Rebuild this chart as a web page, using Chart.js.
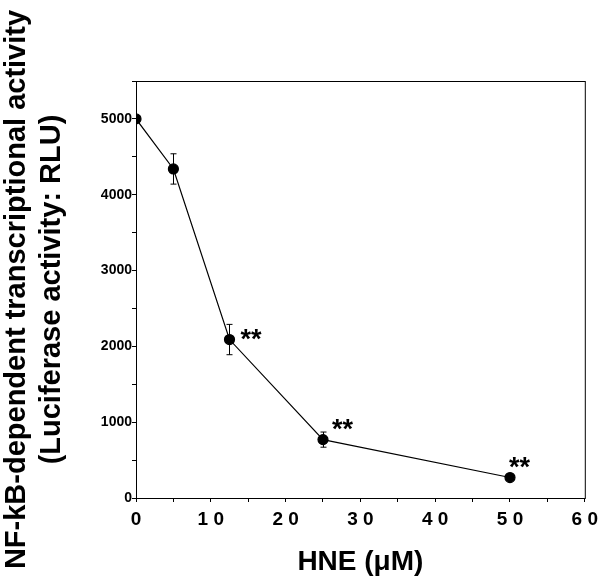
<!DOCTYPE html>
<html>
<head>
<meta charset="utf-8">
<script src="https://cdn.jsdelivr.net/npm/chart.js@4"></script>
<style>
  html, body { margin: 0; padding: 0; background: #fff; }
  #wrap { width: 604px; height: 583px; }
</style>
</head>
<body>
<div id="wrap"><canvas id="hneChart" width="604" height="583"></canvas></div>
<script>
// values
const hneDoses = [0, 5, 12.5, 25, 50];
const rluValues = [5000, 4340, 2090, 770, 270];
const rluErrors = [0, 200, 200, 100, 0];
const significance = ['', '', '**', '**', '**'];
const starOffsets = [[0, 0], [0, 0], [11, -5], [9, -15], [-1, -15]];

const FONT = "'Liberation Sans', Arial, Helvetica, sans-serif";

// error bars, asterisks and the frame around the plot
const extrasPlugin = {
    id: 'extras',
    afterDatasetsDraw(chart) {
        const ctx = chart.ctx;
        const xs = chart.scales.x, ys = chart.scales.y;
        const area = chart.chartArea;
        ctx.save();
        ctx.strokeStyle = '#000';
        ctx.lineWidth = 1;
        ctx.strokeRect(area.left + 0.5, area.top + 0.5, area.right - area.left, area.bottom - area.top);

        hneDoses.forEach((d, i) => {
            if (!rluErrors[i]) return;
            const px = Math.round(xs.getPixelForValue(d)) + 0.5;
            const top = ys.getPixelForValue(rluValues[i] + rluErrors[i]);
            const bot = ys.getPixelForValue(rluValues[i] - rluErrors[i]);
            ctx.beginPath();
            ctx.moveTo(px, top); ctx.lineTo(px, bot);
            ctx.moveTo(px - 3, top); ctx.lineTo(px + 3, top);
            ctx.moveTo(px - 3, bot); ctx.lineTo(px + 3, bot);
            ctx.stroke();
        });

        ctx.fillStyle = '#000';
        ctx.font = 'bold 27px ' + FONT;
        ctx.textBaseline = 'middle';
        ctx.textAlign = 'left';
        hneDoses.forEach((d, i) => {
            if (!significance[i]) return;
            const px = xs.getPixelForValue(d) + starOffsets[i][0];
            const py = ys.getPixelForValue(rluValues[i]) + starOffsets[i][1];
            ctx.fillText(significance[i], px, py + 6);
        });
        ctx.restore();
    }
};

new Chart(document.getElementById('hneChart'), {
    type: 'scatter',
    data: {
        datasets: [{
            data: hneDoses.map((d, i) => ({ x: d, y: rluValues[i] })),
            showLine: true,
            borderColor: '#000',
            borderWidth: 1.2,
            backgroundColor: '#000',
            pointRadius: 5,
            pointHoverRadius: 5
        }]
    },
    options: {
        responsive: false,
        animation: false,
        layout: { padding: { top: 81, right: 19, left: 0, bottom: 0 } },
        plugins: { legend: { display: false }, tooltip: { enabled: false } },
        scales: {
            x: {
                type: 'linear',
                min: 0, max: 60,
                border: { display: true, color: '#000', width: 1 },
                grid: { drawOnChartArea: false, drawTicks: true, tickLength: 4, tickColor: '#000' },
                ticks: {
                    stepSize: 5,
                    autoSkip: false,
                    maxRotation: 0,
                    color: '#000',
                    font: { family: FONT, size: 19, weight: 'bold' },
                    padding: 6,
                    callback: v => (v % 10 === 0 ? String(v).split('').join(' ') : '')
                },
                title: {
                    display: true,
                    text: 'HNE (\u03bcM)',
                    color: '#000',
                    font: { family: FONT, size: 28, weight: 'bold' },
                    padding: { top: 14 }
                },
                afterFit(scale) { scale.height = 85; }
            },
            y: {
                min: 0, max: 5500,
                border: { display: true, color: '#000', width: 1 },
                grid: { drawOnChartArea: false, drawTicks: true, tickLength: 4, tickColor: '#000' },
                ticks: {
                    stepSize: 500,
                    autoSkip: false,
                    color: '#000',
                    font: { family: FONT, size: 14, weight: 'bold' },
                    padding: 0,
                    callback: v => (v % 1000 === 0 ? String(v) : '')
                },
                title: {
                    display: true,
                    text: ['NF-kB-dependent transcriptional activity', '(Luciferase activity: RLU)'],
                    color: '#000',
                    font: { family: FONT, size: 29, weight: 'bold', lineHeight: 1.2 },
                    padding: { top: 0, bottom: 0 }
                },
                afterFit(scale) { scale.width = 136; }
            }
        }
    },
    plugins: [extrasPlugin]
});
</script>
</body>
</html>
